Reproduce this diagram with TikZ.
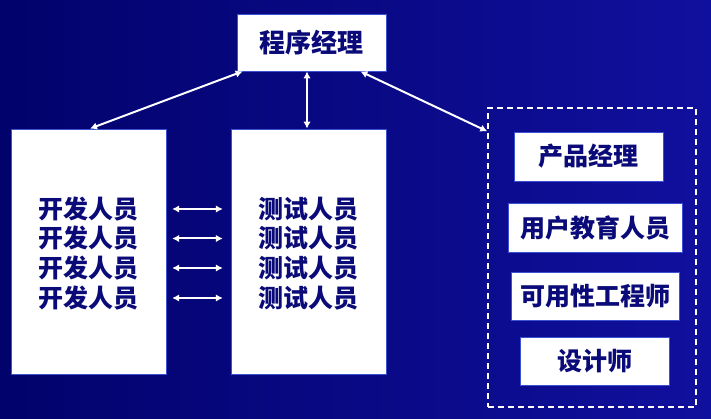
\documentclass[tikz,border=0pt]{standalone}
\usepackage{fontspec}
\newfontfamily\cjk{Noto Sans CJK SC}
\usetikzlibrary{arrows,arrows.meta,positioning,fit,backgrounds,shapes}

\definecolor{slidedark}{RGB}{2,2,108}
\definecolor{slidelight}{RGB}{16,16,158}
\definecolor{boxline}{RGB}{60,80,210}
\definecolor{navytext}{RGB}{10,10,120}

\begin{document}
\begin{tikzpicture}[x=1pt,y=-1pt,
    box/.style={rectangle,draw=boxline,fill=white,line width=0.8pt,
                inner sep=0pt,text=navytext,
                font=\cjk\bfseries\fontsize{25}{25}\selectfont},
    role/.style={inner sep=0pt,text=navytext,
                 font=\cjk\bfseries\fontsize{25}{25}\selectfont},
    link/.style={<->,>={Latex[length=7pt,width=7.5pt]},white,line width=2pt}]
    \shade[left color=slidedark,right color=slidelight]
        (0,0) rectangle (711,419);

    \node (pm) [box,minimum width=149pt,minimum height=57pt,
                font=\cjk\bfseries\fontsize{26}{26}\selectfont]
          at (311.5,42.5) {程序经理};
    \node (devbox) [box,minimum width=155pt,minimum height=245pt]
          at (88.5,251.5) {};
    \node (testbox) [box,minimum width=155pt,minimum height=245pt]
          at (308.5,251.5) {};
    \node (staff) [rectangle,draw=white,line width=1.4pt,
                   dash pattern=on 6pt off 4pt,
                   minimum width=208pt,minimum height=299pt]
          at (592,257.5) {};

    % staff outside the dev/test team
    \node (pmgr) [box,minimum width=149pt,minimum height=49pt]
          at (588.5,156.5) {产品经理};
    \node (edu) [box,minimum width=174pt,minimum height=49pt]
          at (595,227.5) {用户教育人员};
    \node (ux) [box,minimum width=168pt,minimum height=48pt]
          at (595,296) {可用性工程师};
    \node (design) [box,minimum width=149pt,minimum height=48pt]
          at (594.5,361) {设计师};

    % pairs of developers and testers
    \foreach \i/\y in {1/209,2/238.5,3/268,4/298} {
        \node (dev\i) [role] at (88,\y) {开发人员};
        \node (test\i) [role] at (308,\y) {测试人员};
        \draw [link,shorten <=34pt,shorten >=35pt] (dev\i) -- (test\i);
    }

    \draw [link] ([xshift=6pt]pm.south west) -- ([xshift=1.5pt]devbox.north);
    \draw [link] ([xshift=-4.5pt]pm.south) -- ([xshift=-1.5pt]testbox.north);
    \draw [link] ([xshift=-26pt]pm.south east)
          -- ([yshift=-24pt]staff.north west);
\end{tikzpicture}
\end{document}
